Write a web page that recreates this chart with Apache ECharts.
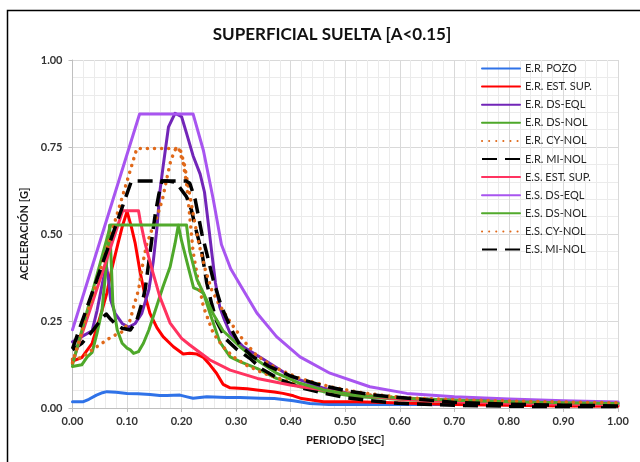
<!DOCTYPE html>
<html>
<head>
<meta charset="utf-8">
<script src="https://cdn.jsdelivr.net/npm/echarts@6/dist/echarts.min.js"></script>
<style>html,body{margin:0;padding:0;background:#fff;}#c{width:640px;height:462px;}</style>
</head>
<body>
<div id="c"></div>
<script>
// ---- data: [period (s), acceleration (g)] ----
var erPozo = [[0,0.018],[0.02,0.018],[0.03,0.025],[0.044,0.037],[0.055,0.044],[0.063,0.047],[0.08,0.045],[0.1,0.042],[0.12,0.041],[0.142,0.039],[0.16,0.036],[0.173,0.036],[0.197,0.037],[0.21,0.032],[0.221,0.028],[0.246,0.032],[0.283,0.030],[0.307,0.030],[0.344,0.028],[0.37,0.027],[0.405,0.021],[0.435,0.013],[0.47,0.010],[0.55,0.010],[0.7,0.010],[0.85,0.009],[1.0,0.008]];
var erEstSup = [[0,0.135],[0.017,0.145],[0.036,0.186],[0.054,0.28],[0.063,0.33],[0.072,0.40],[0.083,0.47],[0.091,0.52],[0.1,0.565],[0.108,0.52],[0.115,0.473],[0.124,0.39],[0.132,0.33],[0.142,0.272],[0.155,0.23],[0.166,0.205],[0.185,0.176],[0.203,0.155],[0.215,0.157],[0.228,0.155],[0.24,0.145],[0.252,0.124],[0.264,0.1],[0.276,0.068],[0.289,0.058],[0.32,0.055],[0.338,0.052],[0.37,0.046],[0.386,0.042],[0.405,0.035],[0.42,0.027],[0.46,0.018],[0.52,0.018],[0.62,0.0135],[0.7,0.01],[0.8,0.008],[0.9,0.006],[1.0,0.005]];
var erDsEql = [[0,0.19],[0.017,0.205],[0.036,0.222],[0.045,0.28],[0.055,0.36],[0.062,0.41],[0.066,0.37],[0.07,0.31],[0.078,0.272],[0.091,0.243],[0.103,0.232],[0.115,0.243],[0.127,0.272],[0.14,0.34],[0.148,0.42],[0.155,0.52],[0.16,0.62],[0.166,0.693],[0.176,0.808],[0.188,0.847],[0.2,0.837],[0.209,0.79],[0.221,0.725],[0.234,0.672],[0.242,0.62],[0.249,0.53],[0.255,0.45],[0.262,0.36],[0.27,0.29],[0.278,0.255],[0.289,0.215],[0.313,0.176],[0.35,0.14],[0.4,0.09],[0.46,0.057],[0.52,0.038],[0.58,0.029],[0.7,0.023],[0.8,0.02],[0.9,0.017],[1.0,0.015]];
var erDsNol = [[0,0.119],[0.017,0.124],[0.027,0.147],[0.036,0.16],[0.045,0.215],[0.054,0.28],[0.06,0.377],[0.065,0.454],[0.068,0.525],[0.071,0.42],[0.074,0.3],[0.082,0.224],[0.091,0.186],[0.1,0.172],[0.106,0.167],[0.112,0.157],[0.121,0.162],[0.13,0.186],[0.14,0.224],[0.146,0.253],[0.154,0.291],[0.166,0.349],[0.179,0.406],[0.188,0.473],[0.194,0.525],[0.2,0.48],[0.212,0.406],[0.222,0.345],[0.23,0.34],[0.24,0.33],[0.252,0.272],[0.27,0.19],[0.289,0.147],[0.307,0.133],[0.338,0.114],[0.374,0.085],[0.417,0.061],[0.46,0.047],[0.52,0.033],[0.62,0.023],[0.7,0.019],[0.8,0.016],[0.9,0.014],[1.0,0.013]];
var erCyNol = [[0,0.14],[0.017,0.145],[0.036,0.167],[0.054,0.186],[0.072,0.205],[0.091,0.219],[0.106,0.253],[0.112,0.291],[0.121,0.339],[0.13,0.425],[0.136,0.47],[0.145,0.51],[0.155,0.55],[0.165,0.6],[0.173,0.66],[0.18,0.71],[0.188,0.742],[0.194,0.75],[0.203,0.703],[0.209,0.646],[0.215,0.55],[0.221,0.45],[0.231,0.36],[0.24,0.291],[0.249,0.253],[0.258,0.215],[0.276,0.176],[0.295,0.147],[0.32,0.122],[0.35,0.1],[0.4,0.074],[0.45,0.056],[0.5,0.044],[0.6,0.029],[0.7,0.021],[0.8,0.017],[0.9,0.014],[1.0,0.012]];
var erMiNol = [[0,0.167],[0.017,0.186],[0.036,0.22],[0.054,0.258],[0.062,0.27],[0.07,0.255],[0.078,0.243],[0.091,0.229],[0.106,0.224],[0.118,0.253],[0.127,0.3],[0.133,0.339],[0.14,0.42],[0.146,0.492],[0.152,0.56],[0.158,0.612],[0.164,0.652],[0.175,0.652],[0.19,0.648],[0.209,0.607],[0.218,0.569],[0.228,0.502],[0.237,0.45],[0.246,0.36],[0.255,0.3],[0.264,0.25],[0.28,0.2],[0.3,0.17],[0.325,0.143],[0.347,0.112],[0.383,0.08],[0.42,0.058],[0.457,0.044],[0.496,0.031],[0.545,0.021],[0.597,0.0135],[0.7,0.008],[0.8,0.005],[0.9,0.004],[1.0,0.004]];
var esEstSup = [[0,0.13],[0.092,0.567],[0.121,0.567],[0.124,0.54],[0.133,0.473],[0.146,0.397],[0.16,0.32],[0.179,0.244],[0.2,0.2],[0.215,0.181],[0.252,0.138],[0.289,0.109],[0.339,0.085],[0.399,0.066],[0.459,0.052],[0.521,0.038],[0.582,0.028],[0.619,0.024],[0.7,0.018],[0.8,0.014],[0.9,0.011],[1.0,0.009]];
var esDsEql = [[0,0.225],[0.123,0.845],[0.221,0.845],[0.24,0.74],[0.258,0.6],[0.273,0.47],[0.29,0.4],[0.307,0.355],[0.338,0.273],[0.374,0.205],[0.417,0.147],[0.472,0.1],[0.545,0.061],[0.613,0.042],[0.7,0.032],[0.8,0.026],[0.9,0.021],[1.0,0.017]];
var esDsNol = [[0,0.125],[0.07,0.526],[0.209,0.526],[0.215,0.45],[0.228,0.37],[0.24,0.33],[0.258,0.27],[0.276,0.222],[0.307,0.176],[0.338,0.138],[0.374,0.1],[0.417,0.071],[0.46,0.052],[0.521,0.037],[0.62,0.027],[0.7,0.022],[0.8,0.018],[0.9,0.015],[1.0,0.013]];
var esCyNol = [[0,0.13],[0.118,0.746],[0.197,0.746],[0.205,0.70],[0.213,0.63],[0.222,0.55],[0.232,0.47],[0.243,0.4],[0.255,0.34],[0.268,0.3],[0.283,0.262],[0.295,0.234],[0.313,0.195],[0.338,0.15],[0.374,0.114],[0.417,0.085],[0.472,0.061],[0.533,0.043],[0.606,0.03],[0.7,0.024],[0.8,0.02],[0.9,0.017],[1.0,0.015]];
var esMiNol = [[0,0.17],[0.108,0.652],[0.209,0.652],[0.215,0.646],[0.225,0.598],[0.237,0.502],[0.246,0.445],[0.258,0.368],[0.273,0.291],[0.292,0.224],[0.307,0.18],[0.33,0.148],[0.36,0.12],[0.4,0.092],[0.45,0.068],[0.5,0.05],[0.55,0.038],[0.6,0.03],[0.7,0.016],[0.8,0.011],[0.9,0.008],[1.0,0.006]];

var seriesNames = ['E.R. POZO','E.R. EST. SUP.','E.R. DS-EQL','E.R. DS-NOL','E.R. CY-NOL','E.R. MI-NOL','E.S. EST. SUP.','E.S. DS-EQL','E.S. DS-NOL','E.S. CY-NOL','E.S. MI-NOL'];
var seriesData = [erPozo, erEstSup, erDsEql, erDsNol, erCyNol, erMiNol, esEstSup, esDsEql, esDsNol, esCyNol, esMiNol];

var FONT = 'Lato, "Liberation Sans", sans-serif';
var solid = function(c){ return {color:c, width:3, type:'solid', cap:'round', join:'round'}; };
var dotted = function(c){ return {color:c, width:3.5, type:[0.1,7], cap:'round', join:'round'}; };
var dashed = function(c){ return {color:c, width:3.5, type:[15,8], cap:'butt', join:'round'}; };
var styles = [
  solid('#2f72e8'), solid('#ff0000'), solid('#7226b8'), solid('#4ea82a'),
  dotted('#e0691a'), dashed('#000000'),
  solid('#ff3360'), solid('#a855f0'), solid('#52aa2c'), dotted('#e0691a'), dashed('#000000')
];

var series = seriesNames.map(function(n, i){
  return {
    name: n, type: 'line', data: seriesData[i], symbol: 'none', showSymbol: false,
    lineStyle: styles[i], itemStyle: {color: styles[i].color}, smooth: false, z: 2 + i
  };
});

var chart = echarts.init(document.getElementById('c'), null, {renderer: 'canvas'});
chart.setOption({
  animation: false,
  backgroundColor: '#ffffff',
  title: {
    text: 'SUPERFICIAL SUELTA [A<0.15]', left: 327, textAlign: 'center', top: 21,
    textStyle: {fontFamily: FONT, fontSize: 17, fontWeight: 'bold', color: '#111'}
  },
  graphic: [{
    type: 'rect', shape: {x: 7.5, y: 10.5, width: 700, height: 500},
    style: {fill: 'none', stroke: '#000', lineWidth: 1.5}, silent: true, z: 100
  }],
  legend: {
    orient: 'vertical', left: 481, top: 63, padding: 0,
    itemWidth: 38, itemHeight: 10, itemGap: 7.1,
    itemStyle: {opacity: 0, color: 'rgba(0,0,0,0)', borderWidth: 0},
    textStyle: {fontFamily: FONT, fontSize: 11, color: '#262626'},
    data: seriesNames
  },
  grid: {left: 72.5, right: 22, top: 60, bottom: 54, containLabel: false},
  xAxis: {
    type: 'value', min: 0, max: 1, interval: 0.1,
    name: 'PERIODO [SEC]', nameLocation: 'middle', nameGap: 27,
    nameTextStyle: {fontFamily: FONT, fontSize: 11, fontWeight: 'bold', color: '#1a1a1a'},
    axisLine: {show: true, lineStyle: {color: '#bfbfbf', width: 1}},
    axisTick: {show: true, length: 4, lineStyle: {color: '#bfbfbf'}},
    axisLabel: {formatter: function(v){ return v.toFixed(2); }, fontFamily: FONT, fontSize: 11, fontWeight: 'bold', color: '#333', margin: 8},
    splitLine: {show: true, lineStyle: {color: '#d9d9d9', width: 1}},
    minorTick: {show: false, splitNumber: 5},
    minorSplitLine: {show: true, lineStyle: {color: '#ebebeb', width: 1}}
  },
  yAxis: {
    type: 'value', min: 0, max: 1, interval: 0.25,
    name: 'ACELERACIÓN [G]', nameLocation: 'middle', nameGap: 31, nameRotate: 90,
    nameTextStyle: {fontFamily: FONT, fontSize: 11, fontWeight: 'bold', color: '#1a1a1a'},
    axisLine: {show: true, lineStyle: {color: '#bfbfbf', width: 1}},
    axisTick: {show: true, length: 4, lineStyle: {color: '#bfbfbf'}},
    axisLabel: {formatter: function(v){ return v.toFixed(2); }, fontFamily: FONT, fontSize: 11, fontWeight: 'bold', color: '#333', margin: 10},
    splitLine: {show: true, lineStyle: {color: '#d9d9d9', width: 1}},
    minorTick: {show: false, splitNumber: 5},
    minorSplitLine: {show: true, lineStyle: {color: '#ebebeb', width: 1}}
  },
  series: series
});
</script>
</body>
</html>
